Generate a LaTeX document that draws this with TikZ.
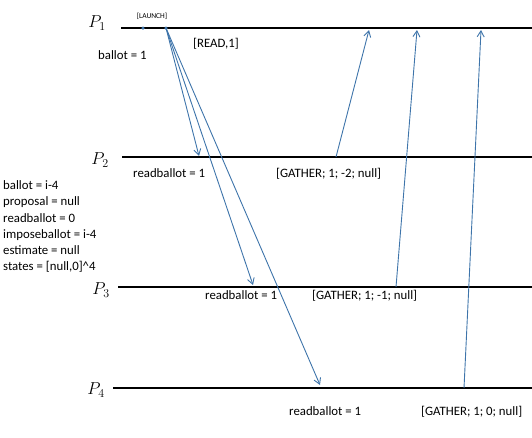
\documentclass[tikz,border=0pt]{standalone}
\usepackage{fontspec}
\setmainfont{Carlito}
\usetikzlibrary{arrows.meta,positioning}
\definecolor{msgblue}{RGB}{62,116,170}
\tikzset{
  procline/.style={line width=2.6pt},
  msg/.style={msgblue, line width=0.9pt, -{Straight Barb[length=6pt,width=7pt]}},
  lbl/.style={font=\fontsize{12.8}{14}\selectfont, inner sep=0pt, anchor=base west},
  pname/.style={font=\fontsize{18}{18}\selectfont, inner sep=0pt},
  evdot/.style={circle, fill=msgblue, inner sep=0pt, minimum size=3.5pt},
}

\begin{document}
\begin{tikzpicture}[x=1pt, y=-1pt]
\useasboundingbox (0,0) rectangle (532,437);

% processes
\node[pname] (p1) at (97,23) {$P_1$};
\node[pname] (p2) at (100,160) {$P_2$};
\node[pname] (p3) at (101,290) {$P_3$};
\node[pname] (p4) at (96,390) {$P_4$};
\coordinate (s1) at (121,28);  \coordinate (e1) at (532,28);
\coordinate (s2) at (122,157); \coordinate (e2) at (532,157);
\coordinate (s3) at (118,287); \coordinate (e3) at (532,287);
\coordinate (s4) at (113,388); \coordinate (e4) at (532,388);
\draw[procline] (s1) -- (e1);
\draw[procline] (s2) -- (e2);
\draw[procline] (s3) -- (e3);
\draw[procline] (s4) -- (e4);

% launch and read
\node[evdot] (launch) at (143,28) {};
\node[evdot] (read) at (166,28) {};
\node[font=\fontsize{7.5}{8}\selectfont, inner sep=0pt, anchor=base] (launchtxt) at (152,18) {[LAUNCH]};
\node[lbl] (ballot1) at (98,59) {ballot = 1};
\node[lbl] (readtxt) at (193,47) {[READ,1]};

\coordinate (r2) at (199,156);
\coordinate (r3) at (253,285);
\coordinate (r4) at (320,385);
\draw[msg] (read.center) -- (r2);
\draw[msg] (read.center) -- (r3);
\draw[msg] (read.center) -- (r4);

% gather replies
\coordinate (g2) at (336,157); \coordinate (t2) at (369,30);
\coordinate (g3) at (396,287); \coordinate (t3) at (417,30);
\coordinate (g4) at (464,388); \coordinate (t4) at (481,30);
\draw[msg] (g2) -- (t2);
\draw[msg] (g3) -- (t3);
\draw[msg] (g4) -- (t4);

\node[lbl] (rb2) at (133,177) {readballot = 1};
\node[lbl] (ga2) at (276,177) {[GATHER; 1; -2; null]};
\node[lbl] (rb3) at (205,299) {readballot = 1};
\node[lbl] (ga3) at (312,299) {[GATHER; 1; -1; null]};
\node[lbl] (rb4) at (289,415) {readballot = 1};
\node[lbl] (ga4) at (421,415) {[GATHER; 1; 0; null]};

% initial state
\node[lbl] (st1) at (3,189) {ballot = i-4};
\node[lbl] (st2) at (3,205) {proposal = null};
\node[lbl] (st3) at (3,222) {readballot = 0};
\node[lbl] (st4) at (3,238) {imposeballot = i-4};
\node[lbl] (st5) at (3,254) {estimate = null};
\node[lbl] (st6) at (3,270) {states = [null,0]\^{}4};
\end{tikzpicture}
\end{document}
